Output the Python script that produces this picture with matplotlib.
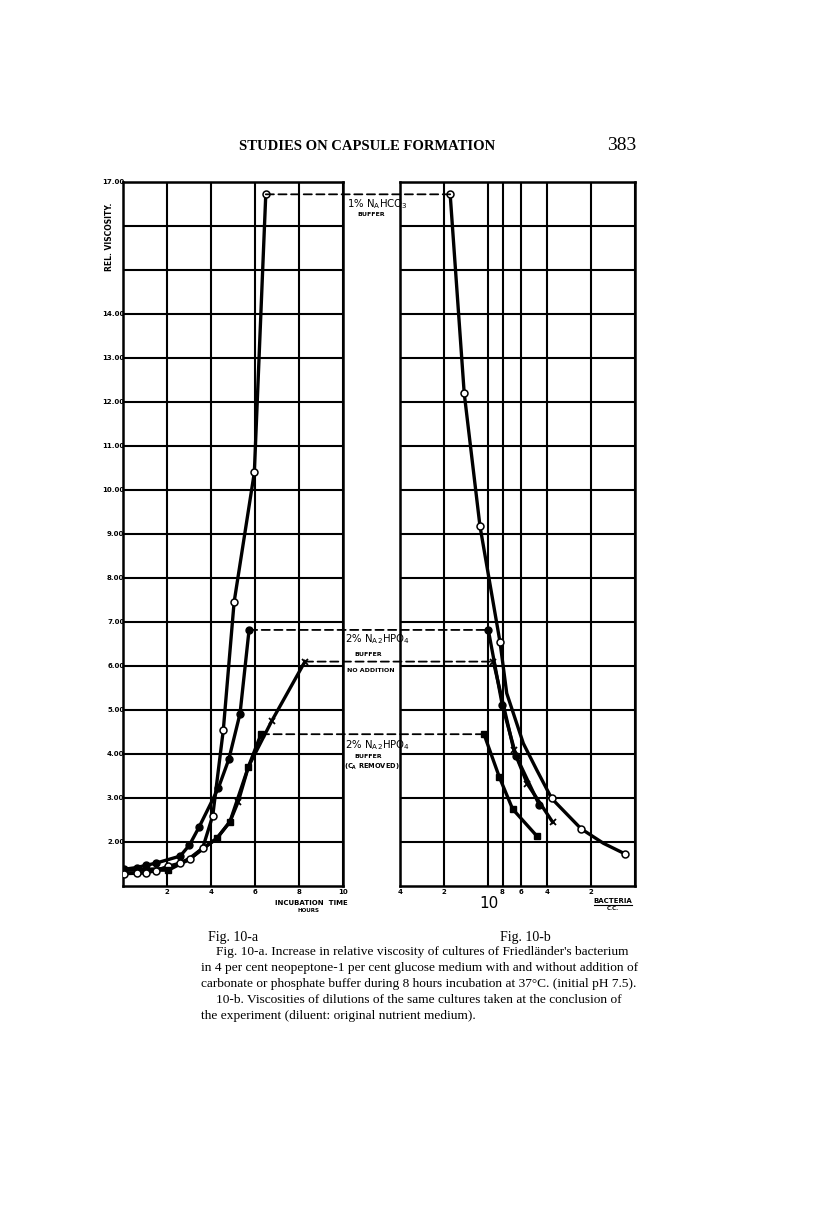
import numpy as np
import matplotlib.pyplot as plt
from matplotlib.patches import ConnectionPatch

#################  DATA  ###################

# Fig 10-a : incubation time (hours) vs relative viscosity
t_bicarb = [0.05, 0.65, 1.05, 1.5, 2.06, 2.6, 3.05, 3.62, 4.08, 4.56, 5.05, 5.97, 6.49]
v_bicarb = [1.28, 1.29, 1.30, 1.35, 1.45, 1.52, 1.61, 1.86, 2.60, 4.55, 7.45, 10.40, 16.72]

t_phos = [0.05, 0.62, 1.05, 1.5, 2.6, 3.02, 3.47, 4.33, 4.81, 5.32, 5.73]
v_phos = [1.38, 1.42, 1.47, 1.52, 1.68, 1.93, 2.35, 3.22, 3.88, 4.92, 6.82]

t_noadd = [0.05, 2.06, 3.0, 3.6, 4.26, 4.86, 5.24, 5.7, 6.76, 8.27]
v_noadd = [1.36, 1.40, 1.62, 1.85, 2.08, 2.46, 2.92, 3.71, 4.75, 6.10]
t_noadd_mk = [5.24, 6.76, 8.27]
v_noadd_mk = [2.92, 4.75, 6.10]

t_ca = [0.05, 2.06, 3.0, 3.6, 4.26, 4.86, 5.7, 6.27]
v_ca = [1.36, 1.36, 1.60, 1.83, 2.08, 2.46, 3.71, 4.45]
t_ca_mk = [2.06, 4.26, 4.86, 5.7, 6.27]
v_ca_mk = [1.36, 2.08, 2.46, 3.71, 4.45]

# Fig 10-b : bacteria per c.c. vs relative viscosity
b_bicarb = [1.82e8, 1.46e8, 1.14e8, 8.32e7, 3.70e7, 2.33e7, 1.17e7]
r_bicarb = [16.72, 12.20, 9.18, 6.54, 2.99, 2.30, 1.73]
b_bicarb_line = [1.82e8, 1.46e8, 1.14e8, 8.32e7, 7.49e7, 5.77e7, 4.68e7, 3.70e7, 2.33e7, 1.64e7, 1.17e7]
r_bicarb_line = [16.72, 12.20, 9.18, 6.54, 5.38, 4.24, 3.64, 2.99, 2.30, 1.97, 1.73]

b_phos = [1.0e8, 8.03e7, 6.47e7, 4.49e7]
r_phos = [6.82, 5.11, 3.96, 2.84]

b_noadd = [9.24e7, 6.69e7, 5.42e7, 3.64e7]
r_noadd = [6.10, 4.08, 3.32, 2.45]

b_ca = [1.07e8, 8.42e7, 6.83e7, 4.68e7]
r_ca = [4.45, 3.48, 2.75, 2.14]

y_ticks = list(range(2, 18))
y_labels = ['%.2f' % v if v not in (15, 16) else '' for v in y_ticks]
x_ticks_a = [2, 4, 6, 8, 10]
x_ticks_b = [4e8, 2e8, 1e8, 8e7, 6e7, 4e7, 2e7, 1e7]
x_labels_b = ['4', '2', '', '8', '6', '4', '2', '']

caption = [
    ("Fig. 10-a. Increase in relative viscosity of cultures of Friedländer's bacterium", 216, 952),
    ("in 4 per cent neopeptone-1 per cent glucose medium with and without addition of", 201, 968),
    ("carbonate or phosphate buffer during 8 hours incubation at 37°C. (initial pH 7.5).", 201, 984),
    ("10-b. Viscosities of dilutions of the same cultures taken at the conclusion of", 216, 1000),
    ("the experiment (diluent: original nutrient medium).", 201, 1016),
]

#################  SETUP  ###################

W, H = 816, 1227
fig = plt.figure(figsize=(W / 100, H / 100), dpi=100)
fig.patch.set_facecolor('white')

def fx(px):
    return px / W

def fy(py):
    return 1 - py / H

axL = fig.add_axes([fx(123), fy(886), (343 - 123) / W, (886 - 182) / H])
axR = fig.add_axes([fx(400), fy(886), (635 - 400) / W, (886 - 182) / H])

for ax in (axL, axR):
    ax.set_ylim(1, 17)
    ax.set_yticks(y_ticks)
    ax.grid(True, color='black', lw=1.5)
    ax.set_axisbelow(True)
    for s in ax.spines.values():
        s.set_linewidth(1.8)
    ax.tick_params(length=0, labelsize=5)

axL.set_xlim(0, 10)
axL.set_xticks(x_ticks_a)
axL.set_xticklabels([str(v) for v in x_ticks_a], fontsize=5, fontweight='bold')
axL.set_yticklabels(y_labels, fontsize=5, fontweight='bold')
axL.tick_params(axis='y', pad=-1)
axL.tick_params(axis='x', pad=2.5)

axR.set_xscale('log')
axR.set_xlim(4e8, 1e7)
axR.set_xticks(x_ticks_b)
axR.set_xticklabels(x_labels_b, fontsize=5, fontweight='bold')
axR.xaxis.set_minor_locator(plt.NullLocator())
axR.set_yticklabels([])
axR.tick_params(axis='x', pad=2.5)

lw = 2.4
ms = 5
# Fig 10-a curves
axL.plot(t_bicarb, v_bicarb, '-', color='black', lw=lw, zorder=3)
axL.plot(t_bicarb, v_bicarb, 'o', mfc='white', mec='black', mew=1.1, ms=ms, zorder=4)
axL.plot(t_phos, v_phos, '-o', color='black', lw=lw, ms=ms, zorder=3)
axL.plot(t_noadd, v_noadd, '-', color='black', lw=lw, zorder=3)
axL.plot(t_noadd_mk, v_noadd_mk, 'x', color='black', mew=1.3, ms=5, zorder=4)
axL.plot(t_ca, v_ca, '-', color='black', lw=lw, zorder=3)
axL.plot(t_ca_mk, v_ca_mk, 's', color='black', ms=4.5, zorder=4)

# Fig 10-b curves
axR.plot(b_bicarb_line, r_bicarb_line, '-', color='black', lw=lw, zorder=3)
axR.plot(b_bicarb, r_bicarb, 'o', mfc='white', mec='black', mew=1.1, ms=ms, zorder=4)
axR.plot(b_phos, r_phos, '-o', color='black', lw=lw, ms=ms, zorder=3)
axR.plot(b_noadd, r_noadd, '-x', color='black', lw=lw, mew=1.3, ms=5, zorder=3)
axR.plot(b_ca, r_ca, '-s', color='black', lw=lw, ms=4.5, zorder=3)

# dashed connectors between the end points of the two figures
ends = [(t_bicarb[-1], b_bicarb[0], v_bicarb[-1]),
        (t_phos[-1], b_phos[0], v_phos[-1]),
        (t_noadd[-1], b_noadd[0], v_noadd[-1]),
        (t_ca[-1], b_ca[0], v_ca[-1])]
for ta, bb, v in ends:
    con = ConnectionPatch(xyA=(ta, v), coordsA=axL.transData,
                          xyB=(bb, v), coordsB=axR.transData,
                          color='black', lw=1.3, linestyle=(0, (4.5, 2.5)), zorder=2)
    fig.add_artist(con)

#################  LABELS  ###################

sans = 'DejaVu Sans'
fig.text(fx(110), fy(237), 'REL. VISCOSITY.', rotation=90, ha='center', va='center',
         fontsize=5.5, fontweight='bold', family=sans)
fig.text(fx(311), fy(903), 'INCUBATION  TIME', ha='center', va='center',
         fontsize=5, fontweight='bold', family=sans)
fig.text(fx(308), fy(911), 'HOURS', ha='center', va='center',
         fontsize=4, fontweight='bold', family=sans)
fig.text(fx(489), fy(903), '10', ha='center', va='center', fontsize=11, family=sans)
fig.text(fx(613), fy(901), 'BACTERIA', ha='center', va='center',
         fontsize=5, fontweight='bold', family=sans)
fig.add_artist(plt.Line2D([fx(594), fx(632)], [fy(905), fy(905)], color='black', lw=0.8))
fig.text(fx(613), fy(909), 'C.C.', ha='center', va='center',
         fontsize=4, fontweight='bold', family=sans)

mid = [
    ('1% N$_{\\mathregular{A}}$HCO$_3$', 347, 204, 7.3, 'normal'),
    ('BUFFER', 371, 214, 4.5, 'bold'),
    ('2% N$_{\\mathregular{A}}$$_{2}$HPO$_4$', 345, 639, 7.3, 'normal'),
    ('BUFFER', 368, 655, 4.5, 'bold'),
    ('NO ADDITION', 371, 670, 4.5, 'bold'),
    ('2% N$_{\\mathregular{A}}$$_{2}$HPO$_4$', 345, 745, 7.3, 'normal'),
    ('BUFFER', 368, 757, 4.5, 'bold'),
    ('(C$_{\\mathregular{A}}$ REMOVED)', 372, 767, 4.8, 'bold'),
]
for txt, px, py, fs, fw in mid:
    ha = 'left' if fs > 6 else 'center'
    fig.text(fx(px), fy(py), txt, ha=ha, va='center', fontsize=fs, fontweight=fw, family=sans)

serif = 'Liberation Serif'
fig.text(fx(367), fy(147), 'STUDIES ON CAPSULE FORMATION', ha='center', va='center',
         fontsize=10.5, fontweight='bold', family=serif)
fig.text(fx(622), fy(146), '383', ha='center', va='center', fontsize=14, family=serif)
fig.text(fx(233), fy(938), 'Fig. 10-a', ha='center', va='center', fontsize=10, family=serif)
fig.text(fx(525), fy(938), 'Fig. 10-b', ha='center', va='center', fontsize=10, family=serif)
for txt, px, py in caption:
    fig.text(fx(px), fy(py), txt, ha='left', va='center', fontsize=9.6, family=serif)

plt.savefig('out.png', dpi=100)
